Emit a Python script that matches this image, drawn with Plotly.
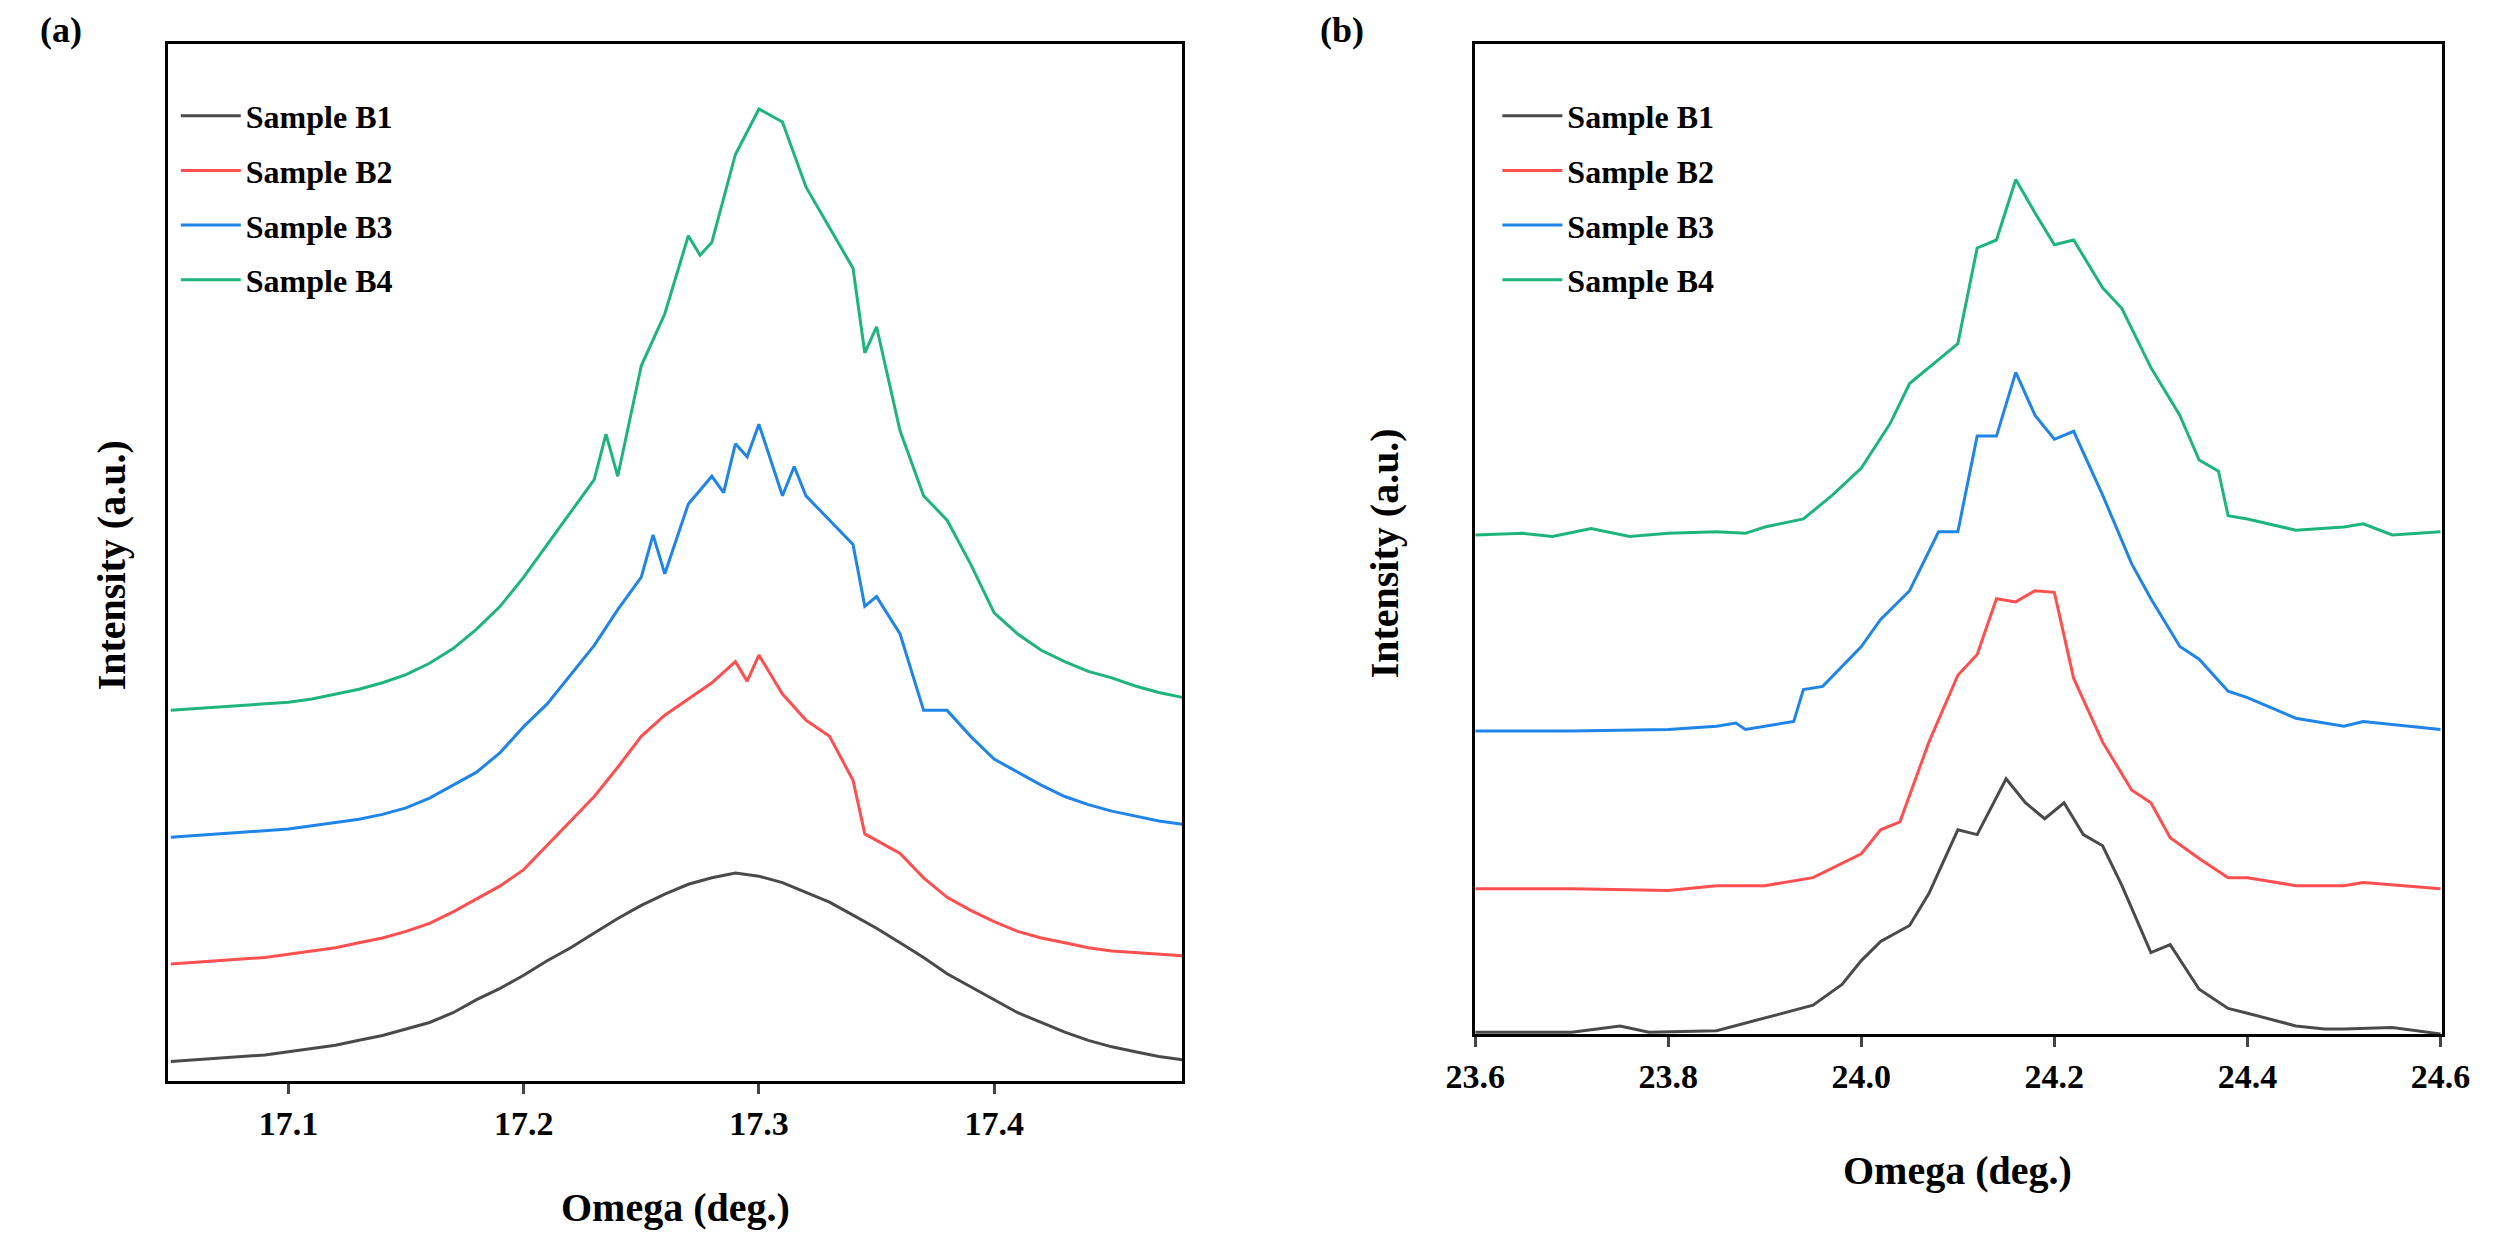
import plotly.graph_objects as go
from plotly.subplots import make_subplots

# panel (a)
xa_b1 = [17.05, 17.06, 17.07, 17.08, 17.09, 17.10, 17.11, 17.12, 17.13, 17.14, 17.15, 17.16, 17.17, 17.18, 17.19,
         17.20, 17.21, 17.22, 17.23, 17.24, 17.25, 17.26, 17.27, 17.28, 17.29, 17.30, 17.31, 17.32, 17.33, 17.34,
         17.35, 17.36, 17.37, 17.38, 17.39, 17.40, 17.41, 17.42, 17.43, 17.44, 17.45, 17.46, 17.47, 17.48]
ya_b1 = [12, 13, 14, 15, 16, 18, 20, 22, 25, 28, 32, 36, 42, 50, 57, 65, 74, 82, 91, 100, 108, 115, 121, 125, 128,
         126, 122, 116, 110, 102, 94, 85, 76, 66, 58, 50, 42, 36, 30, 25, 21, 18, 15, 13]

xa_b2 = [17.05, 17.06, 17.07, 17.08, 17.09, 17.10, 17.11, 17.12, 17.13, 17.14, 17.15, 17.16, 17.17, 17.18, 17.19,
         17.20, 17.21, 17.22, 17.23, 17.24, 17.25, 17.26, 17.27, 17.28, 17.29, 17.295, 17.30, 17.31, 17.32, 17.33,
         17.34, 17.345, 17.35, 17.36, 17.37, 17.38, 17.39, 17.40, 17.41, 17.42, 17.43, 17.44, 17.45, 17.46, 17.47, 17.48]
ya_b2 = [72, 73, 74, 75, 76, 78, 80, 82, 85, 88, 92, 97, 104, 112, 120, 130, 145, 160, 175, 193, 212, 225, 235, 245,
         258, 246, 262, 238, 222, 212, 185, 152, 148, 140, 125, 113, 105, 98, 92, 88, 85, 82, 80, 79, 78, 77]

xa_b3 = [17.05, 17.06, 17.07, 17.08, 17.09, 17.10, 17.11, 17.12, 17.13, 17.14, 17.15, 17.16, 17.17, 17.18, 17.19,
         17.20, 17.21, 17.22, 17.23, 17.24, 17.25, 17.255, 17.26, 17.27, 17.28, 17.285, 17.29, 17.295, 17.30, 17.31,
         17.315, 17.32, 17.33, 17.34, 17.345, 17.35, 17.36, 17.37, 17.38, 17.39, 17.40, 17.41, 17.42, 17.43, 17.44,
         17.45, 17.46, 17.47, 17.48]
ya_b3 = [150, 151, 152, 153, 154, 155, 157, 159, 161, 164, 168, 174, 182, 190, 202, 218, 232, 250, 268, 290, 310,
         336, 312, 355, 372, 362, 392, 384, 404, 360, 378, 360, 345, 330, 292, 298, 275, 228, 228, 212, 198, 190,
         182, 175, 170, 166, 163, 160, 158]

xa_b4 = [17.05, 17.06, 17.07, 17.08, 17.09, 17.10, 17.11, 17.12, 17.13, 17.14, 17.15, 17.16, 17.17, 17.18, 17.19,
         17.20, 17.21, 17.22, 17.23, 17.235, 17.24, 17.25, 17.26, 17.27, 17.275, 17.28, 17.29, 17.30, 17.31, 17.32,
         17.33, 17.34, 17.345, 17.35, 17.36, 17.37, 17.38, 17.39, 17.40, 17.41, 17.42, 17.43, 17.44, 17.45, 17.46,
         17.47, 17.48]
ya_b4 = [228, 229, 230, 231, 232, 233, 235, 238, 241, 245, 250, 257, 266, 278, 292, 310, 330, 350, 370, 398, 372,
         440, 472, 520, 508, 516, 570, 598, 590, 550, 525, 500, 448, 464, 400, 360, 345, 318, 288, 275, 265, 258,
         252, 248, 243, 239, 236]

# panel (b)
xb_b1 = [23.60, 23.70, 23.75, 23.78, 23.85, 23.90, 23.95, 23.98, 24.00, 24.02, 24.05, 24.07, 24.10, 24.12, 24.15,
         24.17, 24.19, 24.21, 24.23, 24.25, 24.27, 24.30, 24.32, 24.35, 24.38, 24.40, 24.45, 24.48, 24.50, 24.55, 24.60]
yb_b1 = [1, 1, 5, 1, 2, 10, 18, 31, 46, 58, 68, 88, 128, 125, 160, 145, 135, 145, 125, 118, 93, 51, 56, 28, 16, 13,
         5, 3, 3, 4, 0]

xb_b2 = [23.60, 23.70, 23.80, 23.85, 23.90, 23.95, 24.00, 24.02, 24.04, 24.07, 24.10, 24.12, 24.14, 24.16, 24.18,
         24.20, 24.22, 24.25, 24.28, 24.30, 24.32, 24.35, 24.38, 24.40, 24.45, 24.50, 24.52, 24.60]
yb_b2 = [91, 91, 90, 93, 93, 98, 113, 128, 133, 183, 225, 238, 273, 271, 278, 277, 223, 183, 153, 145, 123, 110,
         98, 98, 93, 93, 95, 91]

xb_b3 = [23.60, 23.70, 23.80, 23.85, 23.87, 23.88, 23.93, 23.94, 23.96, 24.00, 24.02, 24.05, 24.08, 24.10, 24.12,
         24.14, 24.16, 24.18, 24.20, 24.22, 24.25, 24.28, 24.30, 24.33, 24.35, 24.38, 24.40, 24.45, 24.50, 24.52, 24.60]
yb_b3 = [190, 190, 191, 193, 195, 191, 196, 216, 218, 243, 260, 278, 315, 315, 375, 375, 415, 388, 373, 378, 338,
         295, 273, 243, 235, 215, 211, 198, 193, 196, 191]

xb_b4 = [23.60, 23.65, 23.68, 23.72, 23.76, 23.80, 23.85, 23.88, 23.90, 23.94, 23.97, 24.00, 24.03, 24.05, 24.08,
         24.10, 24.12, 24.14, 24.16, 24.18, 24.20, 24.22, 24.25, 24.27, 24.30, 24.33, 24.35, 24.37, 24.38, 24.40,
         24.45, 24.50, 24.52, 24.55, 24.60]
yb_b4 = [313, 314, 312, 317, 312, 314, 315, 314, 318, 323, 338, 355, 383, 408, 423, 433, 493, 498, 536, 515, 495,
         498, 468, 455, 418, 388, 360, 353, 325, 323, 316, 318, 320, 313, 315]

names = ["Sample B1", "Sample B2", "Sample B3", "Sample B4"]
colors = ["#4a4a4a", "#ff4f4f", "#1f85e8", "#1db57c"]
ticks_a = [17.1, 17.2, 17.3, 17.4]
ticks_b = [23.6, 23.8, 24.0, 24.2, 24.4, 24.6]

font = "Liberation Serif"
fig = make_subplots(rows=1, cols=2)

panel_a = [(xa_b1, ya_b1), (xa_b2, ya_b2), (xa_b3, ya_b3), (xa_b4, ya_b4)]
panel_b = [(xb_b1, yb_b1), (xb_b2, yb_b2), (xb_b3, yb_b3), (xb_b4, yb_b4)]
for i, (x, y) in enumerate(panel_a):
    fig.add_trace(go.Scatter(x=x, y=y, mode="lines", name="<b>" + names[i] + "</b>",
                             line=dict(color=colors[i], width=3), legend="legend", legendgroup="a" + str(i)),
                  row=1, col=1)
for i, (x, y) in enumerate(panel_b):
    fig.add_trace(go.Scatter(x=x, y=y, mode="lines", name="<b>" + names[i] + "</b>",
                             line=dict(color=colors[i], width=3), legend="legend2", legendgroup="b" + str(i)),
                  row=1, col=2)

axis_style = dict(showline=True, mirror=True, linecolor="black", linewidth=3, showgrid=False, zeroline=False,
                  tickfont=dict(family=font, size=34, color="black"))
fig.update_xaxes(**axis_style, ticks="outside", ticklen=10, tickwidth=2.5)
fig.update_yaxes(**axis_style, showticklabels=False, ticks="")
fig.update_xaxes(domain=[0.053, 0.465], range=[17.049, 17.48], tickvals=ticks_a,
                 ticktext=[f"<b>{t:.1f}</b>" for t in ticks_a], row=1, col=1)
fig.update_xaxes(domain=[0.584, 0.977], range=[23.6, 24.602], tickvals=ticks_b,
                 ticktext=[f"<b>{t:.1f}</b>" for t in ticks_b], row=1, col=2)
fig.update_yaxes(domain=[0.134, 0.971], range=[0, 638], row=1, col=1)
fig.update_yaxes(domain=[0.172, 0.971], range=[0, 621], row=1, col=2)

leg = dict(font=dict(family=font, size=32, color="black"), bgcolor="rgba(0,0,0,0)", itemwidth=60,
           yanchor="top", xanchor="left", tracegroupgap=10)
fig.update_layout(
    legend=dict(leg, x=0.056, y=0.935),
    legend2=dict(leg, x=0.593, y=0.935),
)

anns = [
    dict(text="<b>(a)</b>", x=0.0, y=1.0, xanchor="left", yanchor="top", size=36),
    dict(text="<b>(b)</b>", x=0.52, y=1.0, xanchor="left", yanchor="top", size=36),
    dict(text="<b>Omega (deg.)</b>", x=0.259, y=0.012, xanchor="center", yanchor="bottom", size=40),
    dict(text="<b>Omega (deg.)</b>", x=0.78, y=0.042, xanchor="center", yanchor="bottom", size=40),
]
for a in anns:
    fig.add_annotation(text=a["text"], x=a["x"], y=a["y"], xref="paper", yref="paper", xanchor=a["xanchor"],
                       yanchor=a["yanchor"], showarrow=False, font=dict(family=font, size=a["size"], color="black"))
fig.add_annotation(text="<b>Intensity (a.u.)</b>", x=0.02, y=0.55, xref="paper", yref="paper", textangle=-90,
                   showarrow=False, font=dict(family=font, size=40, color="black"))
fig.add_annotation(text="<b>Intensity (a.u.)</b>", x=0.547, y=0.56, xref="paper", yref="paper", textangle=-90,
                   showarrow=False, font=dict(family=font, size=40, color="black"))

fig.update_layout(width=2519, height=1239, margin=dict(l=0, r=0, t=0, b=0), plot_bgcolor="white",
                  paper_bgcolor="white")
fig.write_html("out.html")
